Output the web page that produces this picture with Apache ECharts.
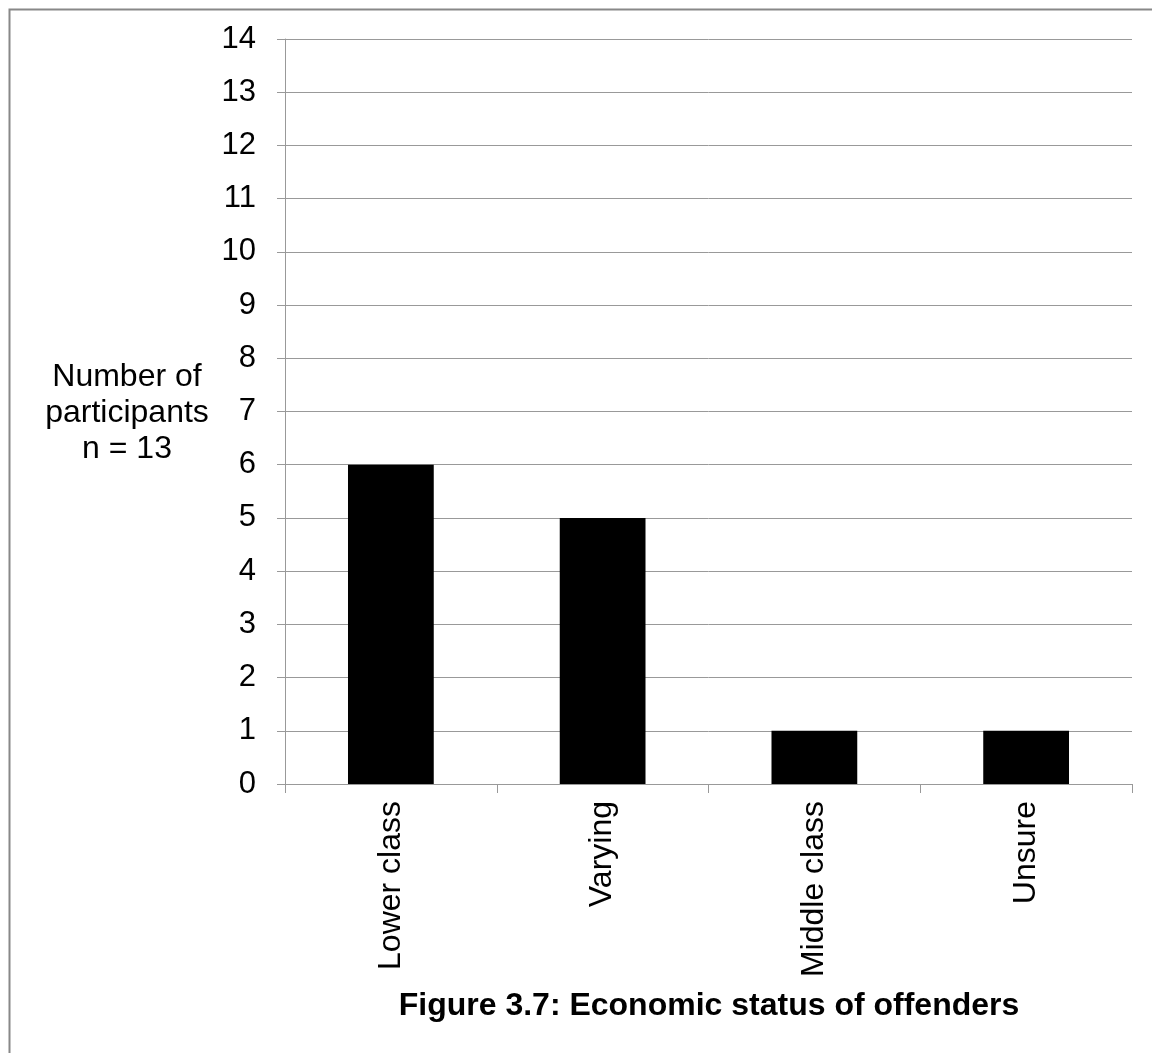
<!DOCTYPE html>
<html>
<head>
<meta charset="utf-8">
<script src="https://cdn.jsdelivr.net/npm/echarts@6/dist/echarts.min.js"></script>
<style>
html,body{margin:0;padding:0;background:#fff;}
#c{width:1152px;height:1053px;}
</style>
</head>
<body>
<div id="c"></div>
<script>
const categories = ["Lower class", "Varying", "Middle class", "Unsure"];
const values = [6, 5, 1, 1];
const yTicks = { min: 0, max: 14, interval: 1 };
const titleText = "Figure 3.7: Economic status of offenders";
const yNameLines = ["Number of", "participants", "n = 13"];

const chart = echarts.init(document.getElementById('c'), null, { renderer: 'canvas' });
const font = "'Liberation Sans', Arial, sans-serif";
chart.setOption({
  backgroundColor: '#fff',
  animation: false,
  grid: { left: 285, right: 20, top: 39, bottom: 269, containLabel: false },
  title: {
    text: titleText,
    left: 704, top: 985, textAlign: 'center',
    textStyle: { fontFamily: font, fontSize: 32, fontWeight: 'bold', color: '#000' }
  },
  xAxis: {
    type: 'category',
    data: categories,
    axisLine: { lineStyle: { color: '#999', width: 1 } },
    axisTick: { show: true, length: 9, alignWithLabel: false, lineStyle: { color: '#999' } },
    axisLabel: { rotate: 90, margin: 17, fontFamily: font, fontSize: 32, color: '#000', interval: 0 },
    splitLine: { show: false }
  },
  yAxis: {
    type: 'value',
    min: yTicks.min, max: yTicks.max, interval: yTicks.interval,
    axisLine: { show: true, lineStyle: { color: '#999', width: 1 } },
    axisTick: { show: true, length: 8, lineStyle: { color: '#999' } },
    axisLabel: { margin: 29, fontFamily: font, fontSize: 31, color: '#000' },
    splitLine: { show: true, lineStyle: { color: '#999', width: 1 } }
  },
  series: [{
    type: 'bar',
    data: values,
    barWidth: '40.5%',
    itemStyle: { color: '#000' }
  }],
  graphic: [
    {
      type: 'rect', left: 7, top: 7, z: 100,
      shape: { width: 1200, height: 1100 },
      style: { fill: 'none', stroke: '#888', lineWidth: 2 }
    },
    {
      type: 'text', z: 100,
      x: 127, y: 359,
      style: {
        text: yNameLines.join('\n'),
        fontFamily: font, fontSize: 32, fill: '#000',
        align: 'center', verticalAlign: 'top', lineHeight: 36
      }
    }
  ]
});
</script>
</body>
</html>
